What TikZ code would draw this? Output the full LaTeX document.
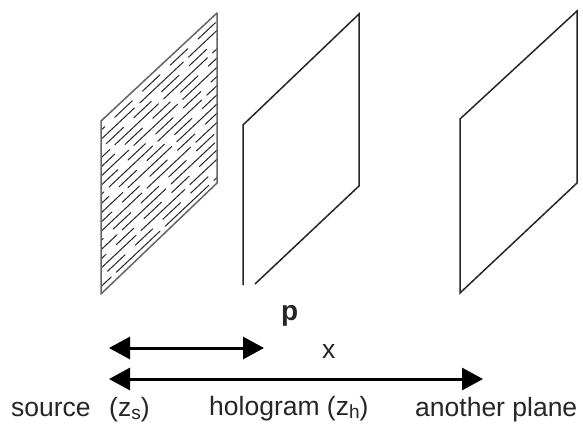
\documentclass[tikz,border=0pt]{standalone}
\usepackage{fontspec}
\setmainfont{Liberation Sans}
\usetikzlibrary{arrows.meta}
\tikzset{
  plane/.style={line width=1.5pt,black!85},
  hatch/.style={line width=1pt,black!85,line cap=round},
  dim/.style={line width=3pt,{Triangle[length=21pt,width=22pt]}-{Triangle[length=21pt,width=22pt]}},
  lab/.style={font=\fontsize{26.5}{30}\selectfont,inner sep=0pt,anchor=base west,text=black!85}
}
\newcommand{\sbs}[1]{\raisebox{-3pt}{\fontsize{19}{20}\selectfont #1}}
\begin{document}
\begin{tikzpicture}[x=1pt,y=-1pt]
\useasboundingbox (0,0) rectangle (583,423);
\fill[white] (0,0) rectangle (583,423);
\begin{scope}
\clip (101,121) -- (217,13) -- (217,183) -- (101,294) -- cycle;
\foreach \i in {-1,...,20}{
  \pgfmathsetmacro{\yy}{121+\i*9.2}
  \pgfmathtruncatemacro{\odd}{mod(\i+2,2)}
  \pgfmathsetmacro{\ph}{mod(\i*17+40,60)}
  \ifnum\odd=0
    \draw[hatch,dash pattern=on 60pt off 7pt,dash phase=\ph] (101,\yy) -- (217,\yy-109);
  \else
    \draw[hatch,dash pattern=on 24pt off 14pt,dash phase=\ph] (101,\yy) -- (217,\yy-109);
  \fi
}
\end{scope}
\draw[plane,black!60,line join=round] (101,121) -- (217,13) -- (217,183) -- (101,294) -- cycle;
\draw[plane] (243,285) -- (243,125) -- (359,14) -- (359,186) -- (255,284);
\draw[plane] (460,119) -- (577,11) -- (577,183) -- (460,293) -- cycle;
\coordinate (a1) at (109,348); \coordinate (a2) at (264,348);
\coordinate (b1) at (109,379); \coordinate (b2) at (483,379);
\draw[dim] (a1) -- (a2);
\draw[dim] (b1) -- (b2);
\node[lab,font=\fontsize{28}{32}\selectfont\bfseries] (p) at (281,320) {p};
\node[lab] (x) at (322,358) {x};
\node[lab] (s) at (11,416) {source};
\node[lab] (zs) at (109,416) {(z\sbs{s})};
\node[lab] (h) at (209,415) {hologram (z\sbs{h})};
\node[lab] (o) at (415,416) {another plane};
\end{tikzpicture}
\end{document}
